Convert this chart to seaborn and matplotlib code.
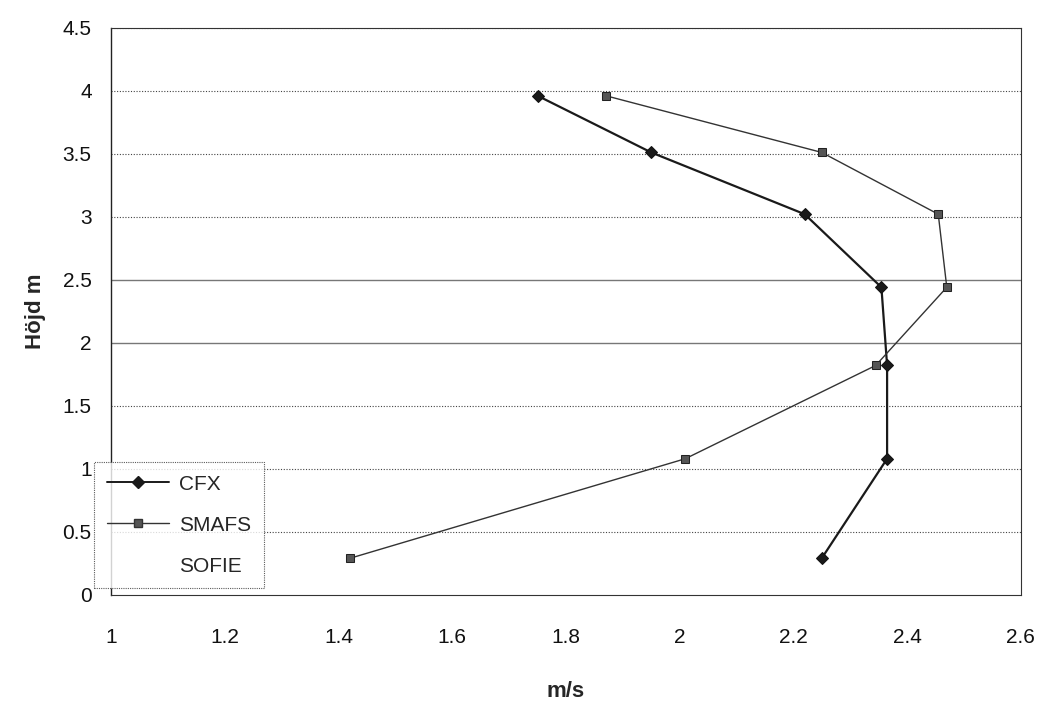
import pandas as pd
import seaborn as sns
import matplotlib.pyplot as plt
from matplotlib.lines import Line2D

# data
hojd = [3.96, 3.51, 3.02, 2.44, 1.82, 1.08, 0.29]
cfx = [1.75, 1.95, 2.22, 2.355, 2.365, 2.365, 2.25]
smafs = [1.87, 2.25, 2.455, 2.47, 2.345, 2.01, 1.42]
sofie = []

df = pd.concat([
    pd.DataFrame({'ms': cfx, 'hojd': hojd, 'serie': 'CFX'}),
    pd.DataFrame({'ms': smafs, 'hojd': hojd, 'serie': 'SMAFS'}),
])

sns.set_style('white')
plt.rcParams['font.family'] = ['Liberation Sans', 'DejaVu Sans']

fig = plt.figure(figsize=(10.49, 7.09), dpi=100)
ax = fig.add_axes([0.106, 0.161, 0.867, 0.800])

ax.set_xlim(1, 2.6)
ax.set_ylim(0, 4.5)
ax.set_xticks([1, 1.2, 1.4, 1.6, 1.8, 2, 2.2, 2.4, 2.6])
ax.set_xticklabels(['1', '1.2', '1.4', '1.6', '1.8', '2', '2.2', '2.4', '2.6'])
ax.set_yticks([0, 0.5, 1, 1.5, 2, 2.5, 3, 3.5, 4, 4.5])
ax.set_yticklabels(['0', '0.5', '1', '1.5', '2', '2.5', '3', '3.5', '4', '4.5'])

# gridlines: most dotted, two solid gray
for v in [0.5, 1, 1.5, 3, 3.5, 4, 4.5]:
    ax.axhline(v, color='#444444', lw=0.8, ls=(0, (1, 1.5)), zorder=0)
for v in [2, 2.5]:
    ax.axhline(v, color='#777777', lw=1.0, zorder=0)

sns.lineplot(data=df[df.serie == 'CFX'], x='ms', y='hojd', sort=False,
             estimator=None, color='#1a1a1a', lw=1.6, marker='D',
             markersize=6, markeredgecolor='#111111', ax=ax, legend=False)
sns.lineplot(data=df[df.serie == 'SMAFS'], x='ms', y='hojd', sort=False,
             estimator=None, color='#333333', lw=1.0, marker='s',
             markersize=6, markerfacecolor='#555555',
             markeredgecolor='#222222', ax=ax, legend=False)

for side in ['top', 'right', 'bottom']:
    ax.spines[side].set_linestyle((0, (1, 1)))
    ax.spines[side].set_color('#333333')
    ax.spines[side].set_linewidth(0.8)
ax.spines['left'].set_color('#222222')
ax.spines['left'].set_linewidth(1.0)

ax.tick_params(axis='both', labelsize=15, length=4, width=0.8,
               direction='out', colors='#111111', pad=20)
ax.tick_params(axis='y', pad=10)

ax.set_xlabel('m/s', fontsize=16, fontweight='bold', labelpad=24)
ax.set_ylabel('Höjd m', fontsize=16, fontweight='bold', labelpad=12)

handles = [
    Line2D([], [], color='#1a1a1a', lw=1.4, marker='D', markersize=6),
    Line2D([], [], color='#333333', lw=1.0, marker='s', markersize=6,
           markerfacecolor='#555555'),
    Line2D([], [], ls='none'),
]
leg = ax.legend(handles, ['CFX', 'SMAFS', 'SOFIE'], loc='lower left',
                bbox_to_anchor=(94 / 1049, 1 - 588 / 709),
                bbox_transform=fig.transFigure, fontsize=15,
                frameon=True, fancybox=False, handlelength=3.0,
                handletextpad=0.5, borderpad=0.6, labelspacing=1.05,
                borderaxespad=0)
leg.get_frame().set_edgecolor('#333333')
leg.get_frame().set_linestyle((0, (1, 1)))
leg.get_frame().set_linewidth(0.8)

fig.savefig('out.png', dpi=100)
